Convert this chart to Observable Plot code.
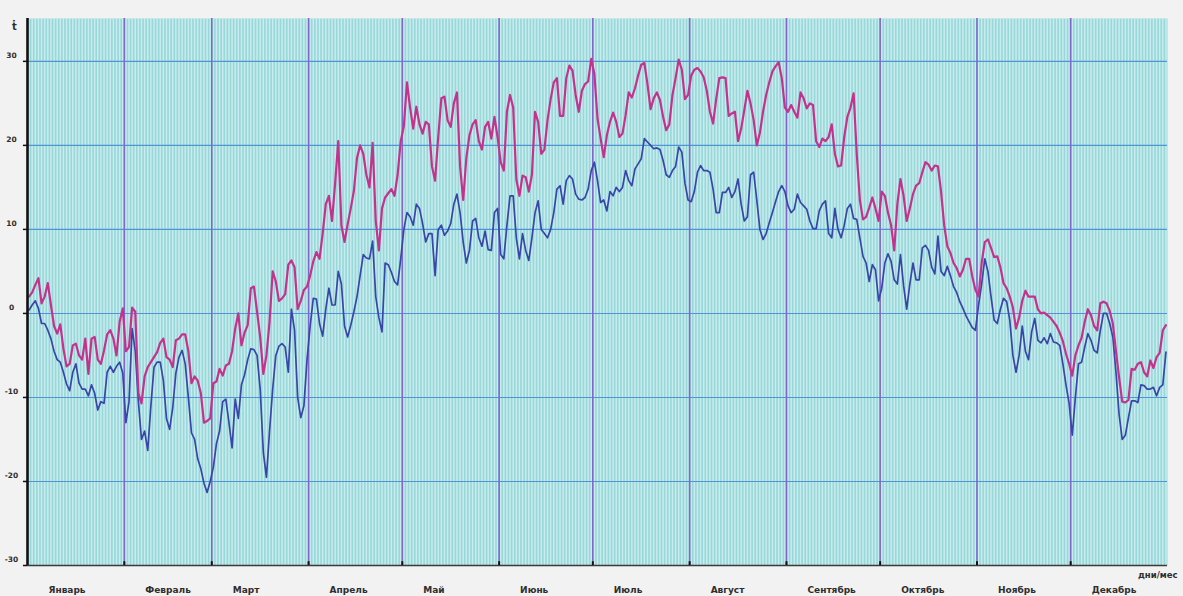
<!DOCTYPE html>
<html>
<head>
<meta charset="utf-8">
<script src="https://cdn.jsdelivr.net/npm/d3@7"></script>
<script src="https://cdn.jsdelivr.net/npm/@observablehq/plot@0.6"></script>
<style>
  html, body { margin: 0; padding: 0; background: #f2f2f2; }
  #chart svg { display: block; }
</style>
</head>
<body>
<div id="chart"></div>
<script>
// Months of the year and their lengths (days)
const monthNames = ["Январь", "Февраль", "Март", "Апрель", "Май", "Июнь",
                    "Июль", "Август", "Сентябрь", "Октябрь", "Ноябрь", "Декабрь"];
const monthLengths = [31, 28, 31, 30, 31, 30, 31, 31, 30, 31, 30, 31];

// Temperature axis ticks, °C
const yTicks = [-30, -20, -10, 0, 10, 20, 30];

// Daily maximum temperature, °C (one value per day, Jan 1 .. Dec 31)
const tmax = [
  // Jan
  2.0, 2.5, 3.4, 4.2, 1.2, 2.0, 3.6, 1.0, -1.5, -2.4, -1.3, -4.2, -6.3, -6.0, -3.8, -3.6,
  -5.0, -5.5, -3.0, -7.2, -3.0, -2.8, -5.5, -6.0, -4.4, -2.5, -2.0, -3.0, -5.0, -1.0, 0.6,
  // Feb
  -4.5, -4.0, 0.7, 0.2, -9.5, -10.7, -7.5, -6.4, -5.8, -5.2, -4.6, -3.5, -3.0, -5.2,
  -5.5, -6.4, -3.2, -3.0, -2.5, -2.5, -4.5, -8.3, -7.5, -8.0, -9.5, -13.0, -12.8, -12.5,
  // Mar
  -8.3, -8.1, -6.6, -7.4, -6.2, -6.0, -4.5, -1.8, 0.0, -3.8, -2.3, -1.4, 3.0, 3.2, 0.2, -2.8,
  -7.2, -5.0, -1.0, 5.0, 3.8, 1.5, 1.8, 2.3, 5.8, 6.3, 5.5, 0.5, 1.5, 2.8, 3.2,
  // Apr
  4.5, 6.2, 7.3, 6.5, 9.5, 13.0, 14.0, 11.0, 15.5, 20.5, 10.5, 8.5, 10.6, 12.5, 14.6,
  18.5, 20.0, 19.0, 16.5, 15.0, 20.3, 11.0, 7.5, 12.5, 13.8, 14.3, 14.8, 14.0, 16.5, 20.5,
  // May
  22.3, 27.5, 24.5, 22.0, 24.6, 22.5, 21.4, 22.8, 22.5, 17.5, 15.8, 21.0, 25.6, 25.8, 23.0, 22.2,
  25.0, 26.3, 17.5, 13.5, 18.5, 21.2, 22.5, 23.0, 20.5, 19.5, 22.2, 22.8, 20.8, 23.4, 21.0,
  // Jun
  18.0, 17.0, 24.0, 26.0, 24.5, 16.0, 14.0, 16.4, 16.2, 14.5, 16.5, 24.0, 22.8, 19.0, 19.5,
  23.0, 25.5, 27.5, 28.0, 23.5, 23.5, 28.0, 29.5, 28.9, 26.0, 24.0, 26.5, 27.3, 27.6, 30.3,
  // Jul
  28.5, 23.2, 20.8, 18.6, 21.2, 22.8, 23.9, 22.8, 21.0, 21.4, 23.6, 26.3, 25.7, 26.8, 28.3, 29.6,
  29.8, 27.3, 24.3, 25.6, 26.3, 25.4, 23.4, 21.8, 22.5, 26.0, 28.0, 30.2, 29.0, 25.5, 26.0,
  // Aug
  28.3, 29.0, 29.2, 28.8, 28.1, 26.5, 24.0, 22.6, 25.5, 28.0, 28.1, 28.0, 23.5, 23.8, 24.0, 20.5,
  22.0, 24.2, 26.5, 25.0, 23.0, 20.0, 21.5, 24.0, 26.0, 27.5, 28.8, 29.4, 29.9, 28.0, 24.5,
  // Sep
  24.0, 24.8, 24.0, 23.3, 26.3, 25.6, 24.4, 25.0, 24.8, 20.5, 19.8, 20.8, 20.5, 21.0, 22.5,
  19.0, 17.5, 17.6, 21.0, 23.4, 24.5, 26.2, 19.0, 13.5, 11.2, 11.5, 12.6, 13.8, 12.5, 11.0,
  // Oct
  14.5, 14.0, 12.0, 10.5, 7.5, 13.0, 16.0, 14.0, 11.0, 12.5, 14.2, 15.2, 15.5, 16.8, 18.0, 17.7,
  17.0, 17.6, 17.5, 14.5, 10.5, 8.0, 7.2, 6.0, 5.4, 4.4, 5.2, 6.5, 6.5, 4.4, 2.8,
  // Nov
  2.0, 6.0, 8.5, 8.8, 7.8, 6.7, 6.8, 5.5, 3.6, 3.0, 2.0, 0.7, -1.8, -0.5, 1.5,
  2.7, 2.0, 2.0, 2.0, 0.5, 0.0, 0.1, -0.2, -0.5, -1.0, -1.5, -2.3, -3.3, -4.8, -6.0,
  // Dec
  -7.4, -5.0, -3.8, -2.9, -1.0, 0.5, -0.2, -1.5, -2.0, 1.2, 1.4, 1.2, 0.3, -1.2, -4.5, -7.6,
  -10.5, -10.6, -10.3, -6.6, -6.7, -6.0, -5.8, -7.0, -7.5, -5.6, -6.5, -5.2, -4.7, -2.0, -1.4
];

// Daily minimum temperature, °C
const tmin = [
  // Jan
  0.4, 1.0, 1.5, 0.6, -1.2, -1.2, -2.0, -3.0, -4.5, -5.5, -5.8, -7.0, -8.4, -9.2, -7.0, -6.0,
  -8.3, -9.0, -9.0, -9.8, -8.5, -9.5, -11.5, -10.5, -10.7, -7.0, -6.3, -7.0, -6.3, -5.8, -7.1,
  // Feb
  -13.0, -10.5, -1.8, -4.5, -10.5, -15.0, -14.0, -16.3, -11.0, -6.4, -5.8, -5.8, -8.0, -12.5,
  -13.8, -11.2, -7.1, -5.2, -4.4, -6.0, -10.0, -14.2, -15.0, -17.3, -18.5, -20.2, -21.3, -20.0,
  // Mar
  -18.3, -15.5, -14.0, -10.5, -10.2, -13.0, -16.0, -10.2, -12.5, -8.5, -7.3, -5.5, -4.2, -4.3, -5.0, -9.0,
  -16.5, -19.5, -14.0, -9.0, -5.0, -3.9, -3.6, -4.0, -7.0, 0.5, -2.0, -10.0, -12.4, -11.0, -5.5,
  // Apr
  -1.5, 1.8, 1.7, -1.2, -2.7, 0.5, 3.0, 1.0, 1.0, 5.0, 3.5, -1.5, -2.8, -1.4, 0.2,
  2.0, 4.5, 7.0, 6.6, 6.5, 8.6, 2.0, -0.5, -2.2, 6.0, 5.8, 4.9, 3.8, 3.4, 6.5,
  // May
  10.0, 12.0, 11.5, 10.5, 13.0, 12.5, 10.7, 8.5, 9.5, 9.5, 4.5, 10.0, 10.5, 9.3, 9.8, 10.7,
  13.0, 14.2, 12.0, 8.5, 6.0, 7.5, 11.0, 11.3, 9.0, 8.0, 9.8, 7.6, 7.5, 12.0, 12.5,
  // Jun
  7.0, 6.5, 10.5, 14.0, 14.0, 9.0, 6.5, 9.5, 7.5, 6.3, 9.0, 12.0, 13.4, 10.0, 9.5,
  9.0, 10.0, 12.0, 14.8, 15.2, 13.0, 15.8, 16.4, 16.0, 14.2, 13.6, 13.5, 13.8, 14.8, 17.0,
  // Jul
  18.0, 15.8, 13.2, 13.5, 12.2, 14.5, 14.0, 15.0, 14.5, 15.0, 17.0, 15.8, 15.2, 17.2, 17.8, 18.4,
  20.8, 20.4, 20.0, 19.6, 19.7, 19.5, 18.2, 16.5, 16.2, 17.0, 17.5, 19.8, 19.2, 15.5, 13.5,
  // Aug
  13.3, 14.5, 16.8, 17.6, 17.0, 17.0, 16.8, 14.8, 12.0, 12.0, 14.4, 14.4, 15.0, 13.8, 14.5, 16.0,
  13.0, 11.0, 11.5, 16.5, 16.8, 13.5, 10.0, 8.8, 9.5, 10.8, 12.0, 13.3, 14.5, 15.2, 14.5,
  // Sep
  12.8, 12.0, 12.4, 14.2, 13.2, 12.8, 12.4, 11.0, 10.1, 10.1, 12.2, 13.0, 13.4, 9.5, 9.0,
  12.5, 10.0, 9.0, 10.5, 12.5, 13.0, 11.3, 11.2, 9.0, 6.8, 6.0, 3.8, 5.8, 5.2, 1.5,
  // Oct
  3.0, 6.0, 7.1, 6.2, 4.0, 3.5, 7.0, 3.3, 0.5, 3.5, 6.0, 4.0, 4.0, 7.8, 8.1, 7.5,
  5.5, 4.7, 9.2, 5.0, 4.5, 5.6, 4.5, 3.2, 2.5, 1.4, 0.6, -0.3, -1.0, -1.7, -2.0,
  // Nov
  1.0, 3.5, 6.5, 5.0, 2.0, -0.8, -1.2, 0.5, 1.8, 1.4, -0.8, -5.0, -7.0, -5.0, -1.5,
  -4.5, -5.5, -2.2, -0.6, -3.2, -3.5, -2.9, -3.6, -2.4, -3.4, -3.5, -3.8, -6.0, -8.5, -10.7,
  // Dec
  -14.5, -10.0, -6.0, -5.8, -4.0, -2.4, -3.2, -4.4, -4.7, -2.0, 0.0, 0.0, -1.2, -2.8, -7.0, -12.0,
  -15.0, -14.5, -12.4, -10.4, -10.4, -10.6, -8.5, -8.6, -9.0, -9.0, -8.8, -9.8, -8.8, -8.5, -4.6
];

// Month start positions (day index of the 1st of each month)
const monthStarts = [0, ...d3.cumsum(monthLengths.slice(0, -1))];
const months = monthNames.map((name, i) => ({name, start: monthStarts[i]}));
const yearDays = d3.range(d3.sum(monthLengths));

const series = yearDays.map(i => ({day: i + 0.5, tmax: tmax[i], tmin: tmin[i]}));

const labelFont = {fontFamily: "DejaVu Sans, sans-serif", fontWeight: "bold", fill: "#2e2e2e"};

const chart = Plot.plot({
  width: 1183,
  height: 596,
  marginLeft: 27,
  marginRight: 16,
  marginTop: 18,
  marginBottom: 31,
  x: {domain: [0, yearDays.length], axis: null},
  y: {domain: [-30, 35.1], axis: null},
  style: {background: "#f2f2f2", fontFamily: "DejaVu Sans, sans-serif", overflow: "visible"},
  marks: [
    // cyan plotting field
    Plot.frame({fill: "#98d7da", stroke: null}),
    // one pale stripe per day
    Plot.ruleX(yearDays, {x: d => d + 0.5, stroke: "#c9ecec", strokeWidth: 1.5}),
    // horizontal grid every 10 degrees
    Plot.ruleY(yTicks.filter(v => v > -30), {stroke: "#5094d8", strokeWidth: 1.1}),
    // month separators
    Plot.ruleX(months.slice(1), {x: "start", stroke: "#7d69cc", strokeWidth: 1.6}),
    // daily minimum and maximum
    Plot.line(series, {x: "day", y: "tmin", stroke: "#3946a9", strokeWidth: 1.7}),
    Plot.line(series, {x: "day", y: "tmax", stroke: "#c3338e", strokeWidth: 2.2}),
    // axes
    Plot.ruleY([-30], {stroke: "#3a3a3a", strokeWidth: 1.6}),
    Plot.ruleX([0], {stroke: "#111", strokeWidth: 2.6}),
    Plot.ruleX(months.slice(1), {x: "start", y1: -30, y2: -29.55, stroke: "#111", strokeWidth: 2}),
    Plot.ruleY(yTicks, {x1: -1.3, x2: 0, stroke: "#111", strokeWidth: 1.5}),
    // tick labels
    Plot.text(yTicks, {x: 0, y: d => d, text: d => String(d), dx: -16, dy: -6,
      textAnchor: "middle", fontSize: 7.5, ...labelFont}),
    Plot.text(months, {x: "start", y: -30, text: "name", dx: 21, dy: 25,
      textAnchor: "start", fontSize: 9, ...labelFont}),
    Plot.text(["дни/мес"], {x: yearDays.length, y: -30, dx: 10, dy: 9.5,
      textAnchor: "end", fontSize: 8.5, ...labelFont}),
    Plot.text(["ṫ"], {x: 0, y: 35.1, dx: -13, dy: 8, textAnchor: "middle", fontSize: 10, ...labelFont})
  ]
});

document.getElementById("chart").append(chart);
</script>
</body>
</html>
